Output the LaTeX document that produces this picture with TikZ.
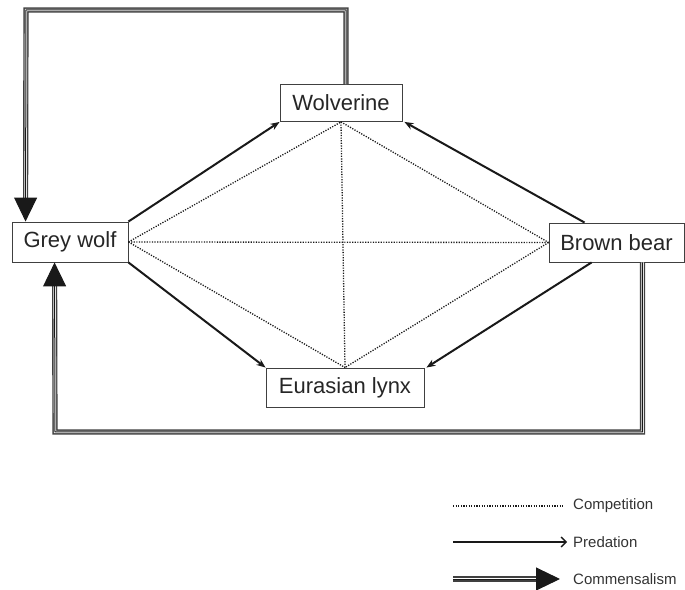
\documentclass[tikz,border=0pt]{standalone}
\usepackage{fontspec}
\setmainfont{Liberation Sans}
\usetikzlibrary{arrows.meta,calc}
\begin{document}
\begin{tikzpicture}[x=1pt,y=1pt,
  species/.style={draw=black!75, line width=0.9pt, fill=white, inner sep=0pt,
    font=\fontsize{22}{24}\selectfont, text=black!85},
  compet/.style={draw=black!90, line width=1.3pt, dash pattern=on 1.2pt off 1.4pt},
  pred/.style={draw=black!90, line width=2pt, -{Stealth[length=9pt,width=7pt]}},
  commbase/.style={draw=black!75, line width=1.4pt, double=white, double distance=2.4pt},
  commtip/.style={draw=black!90, line width=1pt, -{Triangle[length=24pt,width=23pt]}},
  legtext/.style={anchor=west, inner sep=0pt, font=\fontsize{15}{17}\selectfont, text=black!80}
]
\useasboundingbox (0,0) rectangle (685,589);

% species
\node[species, minimum width=122pt, minimum height=37pt] (wolverine) at (341,486) {Wolverine};
\node[species, minimum width=116pt, minimum height=40pt] (wolf) at (70,347) {Grey wolf};
\node[species, minimum width=135pt, minimum height=39pt] (bear) at (616.5,346.5) {Brown bear};
\node[species, minimum width=158pt, minimum height=39pt] (lynx) at (345,201.5) {Eurasian lynx};

% competition
\draw[compet] (wolf.east) -- (wolverine.south);
\draw[compet] (wolverine.south) -- (bear.west);
\draw[compet] (wolf.east) -- (bear.west);
\draw[compet] (wolf.east) -- (lynx.north);
\draw[compet] (bear.west) -- (lynx.north);
\draw[compet] (wolverine.south) -- (lynx.north);

% predation
\draw[pred] (wolf.north east) -- (wolverine.south west);
\draw[pred] ([xshift=36pt]bear.north west) -- ([xshift=2pt]wolverine.south east);
\draw[pred] (wolf.south east) -- (lynx.north west);
\draw[pred] ([xshift=43pt]bear.south west) -- ([xshift=2pt]lynx.north east);

% commensalism
\coordinate (tl) at (26,579);
\coordinate (bl) at (55,157);
\draw[commbase, shorten >=22pt] ([xshift=5pt]wolverine.north) |- (tl) -- ([xshift=14pt]wolf.north west);
\draw[commtip] ([xshift=5pt]wolverine.north) |- (tl) -- ([xshift=14pt]wolf.north west);
\draw[commbase, shorten >=22pt] ([xshift=94pt]bear.south west) |- (bl) -- ([xshift=43pt]wolf.south west);
\draw[commtip] ([xshift=94pt]bear.south west) |- (bl) -- ([xshift=43pt]wolf.south west);

% legend
\coordinate (c1) at (453,83);
\coordinate (c2) at (563,83);
\coordinate (p1) at (453,47);
\coordinate (p2) at (567,47);
\coordinate (m1) at (453,10);
\coordinate (m2) at (560,10);
\draw[compet] (c1) -- (c2);
\draw[draw=black!90, line width=1.3pt, -{Straight Barb[length=5pt,width=10pt]}] (p1) -- (p2);
\draw[commbase, shorten >=20pt] (m1) -- (m2);
\draw[commtip] (m1) -- (m2);
\node[legtext] (lc) at (573,83) {Competition};
\node[legtext] (lp) at (573,47) {Predation};
\node[legtext] (lm) at (573,10) {Commensalism};
\end{tikzpicture}
\end{document}
